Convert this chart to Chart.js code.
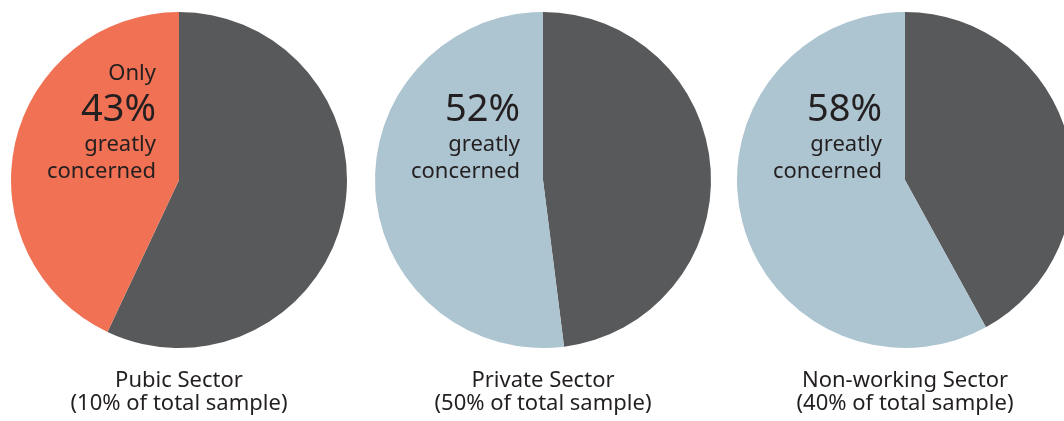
<!DOCTYPE html>
<html>
<head>
<meta charset="utf-8">
<title>Concern by sector</title>
<script src="https://cdn.jsdelivr.net/npm/chart.js"></script>
<style>
  html, body { margin: 0; padding: 0; background: #fff; overflow: hidden; }
  body { width: 1064px; height: 421px; position: relative; }
  canvas { position: absolute; top: 0; }
</style>
</head>
<body>
<canvas id="pie0" width="360" height="421" style="left:-1px"></canvas>
<canvas id="pie1" width="360" height="421" style="left:363px"></canvas>
<canvas id="pie2" width="360" height="421" style="left:725px"></canvas>
<script>
'use strict';
const sectors = ['Pubic Sector', 'Private Sector', 'Non-working Sector'];
const sampleShare = [10, 50, 40];
const greatlyConcerned = [43, 52, 58];
const notGreatlyConcerned = [57, 48, 42];
const leadWord = ['Only', '', ''];

const darkGrey = '#58595b';
const highlight = ['#f17154', '#adc4d1', '#adc4d1'];
const ink = '#231f20';
const font = '"Noto Sans", "Open Sans", sans-serif';

// writes the callout inside the highlighted slice and the caption under each pie
const sectorText = {
  id: 'sectorText',
  afterDraw(chart, args, opts) {
    const i = opts.index;
    const arc = chart.getDatasetMeta(0).data[0];
    const cx = arc.x, cy = arc.y;
    const ctx = chart.ctx;
    ctx.save();
    ctx.fillStyle = ink;
    ctx.textBaseline = 'alphabetic';

    ctx.textAlign = 'right';
    const right = cx - 23;
    ctx.font = '22px ' + font;
    if (leadWord[i]) ctx.fillText(leadWord[i], right, cy - 100);
    ctx.font = '38px ' + font;
    ctx.fillText(greatlyConcerned[i] + '%', right, cy - 59);
    ctx.font = '22px ' + font;
    ctx.fillText('greatly', right, cy - 29);
    ctx.fillText('concerned', right, cy - 2);

    ctx.textAlign = 'center';
    ctx.fillText(sectors[i], cx, 387);
    ctx.fillText('(' + sampleShare[i] + '% of total sample)', cx, 410);
    ctx.restore();
  }
};

for (let i = 0; i < sectors.length; i++) {
  let ctx = document.getElementById('pie' + i).getContext('2d');
  new Chart(ctx, {
    type: 'pie',
    data: {
      labels: ['Not greatly concerned', 'Greatly concerned'],
      datasets: [{
        data: [notGreatlyConcerned[i], greatlyConcerned[i]],
        backgroundColor: [darkGrey, highlight[i]],
        borderWidth: 0
      }]
    },
    options: {
      responsive: false,
      animation: false,
      layout: { padding: { left: 12, right: 12, top: 12, bottom: 73 } },
      plugins: {
        legend: { display: false },
        tooltip: { enabled: false },
        sectorText: { index: i }
      }
    },
    plugins: [sectorText]
  });
}
</script>
</body>
</html>
